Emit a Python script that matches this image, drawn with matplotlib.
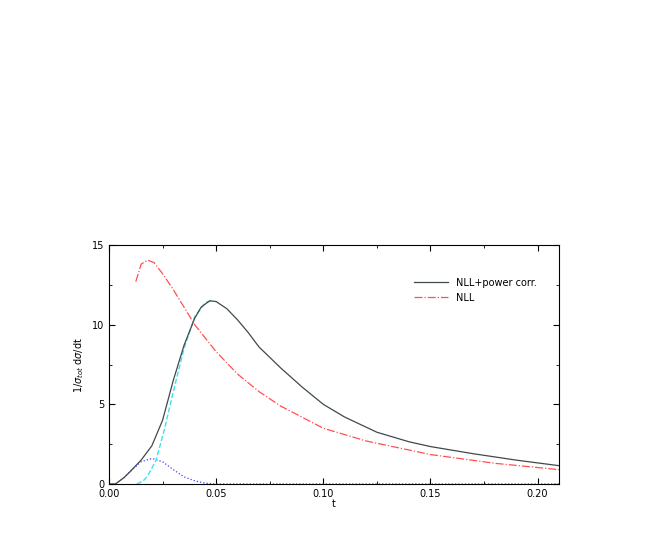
import matplotlib
matplotlib.use("Agg")
import matplotlib.pyplot as plt

t_tot = [0, 0.003, 0.007, 0.01, 0.015, 0.02, 0.025, 0.03, 0.035, 0.04, 0.043, 0.047, 0.05, 0.055, 0.06, 0.065, 0.07, 0.08, 0.09, 0.1, 0.11, 0.125, 0.14, 0.15, 0.17, 0.19, 0.21]
y_tot = [0, 0.0, 0.4, 0.8, 1.5, 2.4, 4.0, 6.5, 8.7, 10.4, 11.1, 11.5, 11.45, 11.0, 10.3, 9.5, 8.6, 7.3, 6.1, 5.0, 4.2, 3.25, 2.65, 2.35, 1.9, 1.5, 1.15]
t_cy = [0.013, 0.016, 0.018, 0.022, 0.026, 0.03, 0.035, 0.04, 0.045, 0.048]
y_cy = [0, 0.2, 0.5, 1.5, 3.5, 5.8, 8.5, 10.5, 11.4, 11.5]
t_bl = [0, 0.003, 0.007, 0.01, 0.015, 0.02, 0.025, 0.03, 0.035, 0.04, 0.045, 0.05, 0.21]
y_bl = [0, 0.0, 0.4, 0.8, 1.4, 1.6, 1.4, 0.9, 0.45, 0.2, 0.05, 0, 0]
t_nll = [0.0125, 0.015, 0.018, 0.021, 0.025, 0.03, 0.035, 0.04, 0.05, 0.06, 0.07, 0.08, 0.1, 0.12, 0.15, 0.18, 0.21]
y_nll = [12.7, 13.8, 14.05, 13.9, 13.2, 12.2, 11.1, 10.0, 8.3, 6.9, 5.8, 4.9, 3.5, 2.7, 1.85, 1.3, 0.9]

fig = plt.figure(figsize=(6.54, 5.45), dpi=100)
ax = fig.add_axes([109/654, 1-484/545, 450/654, 239/545])
ax.plot(t_bl, y_bl, color="#4040ff", lw=0.9, ls=":")
ax.plot(t_cy, y_cy, color="#40e0f0", lw=1.0, ls="--")
ax.plot(t_tot, y_tot, color="#404a4a", lw=0.9, label="NLL+power corr.")
ax.plot(t_nll, y_nll, color="#ff5050", lw=0.9, ls="-.", label="NLL")
ax.set_xlim(0, 0.21)
ax.set_ylim(0, 15)
ax.set_xticks([0, 0.05, 0.10, 0.15, 0.20])
ax.set_xticklabels(["0.00", "0.05", "0.10", "0.15", "0.20"])
ax.set_yticks([0, 5, 10, 15])
ax.set_xticks([0.025, 0.075, 0.125, 0.175], minor=True)
ax.set_yticks([2.5, 7.5, 12.5], minor=True)
ax.tick_params(which="both", direction="in", top=True, right=True, labelsize=7)
ax.tick_params(which="major", length=4)
ax.tick_params(which="minor", length=2)
ax.set_xlabel("t", fontsize=7, labelpad=0)
ax.set_ylabel(r"1/$\sigma_{tot}$ d$\sigma$/dt", fontsize=7)
ax.legend(loc="upper right", bbox_to_anchor=(0.97, 0.9), frameon=False, fontsize=7, handlelength=3.5)
fig.savefig("out.png", dpi=100)
